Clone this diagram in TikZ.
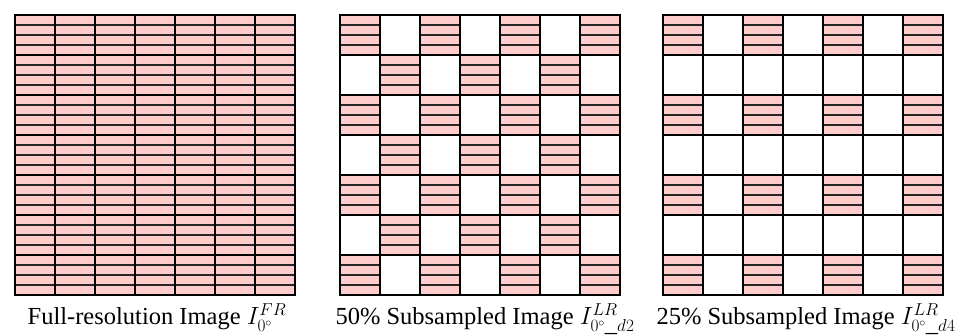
\documentclass[tikz,border=0pt]{standalone}
\usepackage{fontspec}
\setmainfont{Liberation Serif}
\definecolor{stripepink}{RGB}{255,204,204}
\newcommand\mystripecell[2]{%
  \fill[stripepink] (#1,#2) rectangle ++(40,40);
  \foreach \k in {1,2,3} {\draw[stripeline] (#1,#2+10*\k) -- ++(40,0);}
}
\newcommand\mygridlines[1]{%
  \foreach \i in {0,...,7} {
    \draw[cellline] (#1+40*\i,15) -- (#1+40*\i,295);
    \draw[cellline] (#1,15+40*\i) -- (#1+280,15+40*\i);
  }
  \draw[cellline] (#1,15) rectangle (#1+280,295);
}
\begin{document}
\begin{tikzpicture}[x=1pt,y=-1pt,
  cellline/.style={line width=2.2pt,black,line cap=rect},
  stripeline/.style={line width=1.5pt,black!85},
  caption/.style={anchor=base,font=\fontsize{24.5}{28}\selectfont,inner sep=0pt}]
\useasboundingbox (0,0) rectangle (967,336);
% grid 1: full resolution
\foreach \r in {0,...,6} {\foreach \c in {0,...,6} {\mystripecell{15+40*\c}{15+40*\r}}}
\mygridlines{15}
% grid 2: 50% checkerboard
\foreach \r in {0,...,6} {\foreach \c in {0,...,6} {%
  \ifodd\numexpr\r+\c\relax\else\mystripecell{340+40*\c}{15+40*\r}\fi}}
\mygridlines{340}
% grid 3: 25%
\foreach \r in {0,...,6} {\foreach \c in {0,...,6} {%
  \ifodd\r\relax\else\ifodd\c\relax\else\mystripecell{663+40*\c}{15+40*\r}\fi\fi}}
\mygridlines{663}
% captions
\node[caption] (cap1) at (157,325) {Full-resolution Image $I^{FR}_{0^\circ}$};
\node[caption] (cap2) at (485,325) {50\% Subsampled Image $I^{LR}_{0^\circ\_d2}$};
\node[caption] (cap3) at (806,325) {25\% Subsampled Image $I^{LR}_{0^\circ\_d4}$};
\end{tikzpicture}
\end{document}
